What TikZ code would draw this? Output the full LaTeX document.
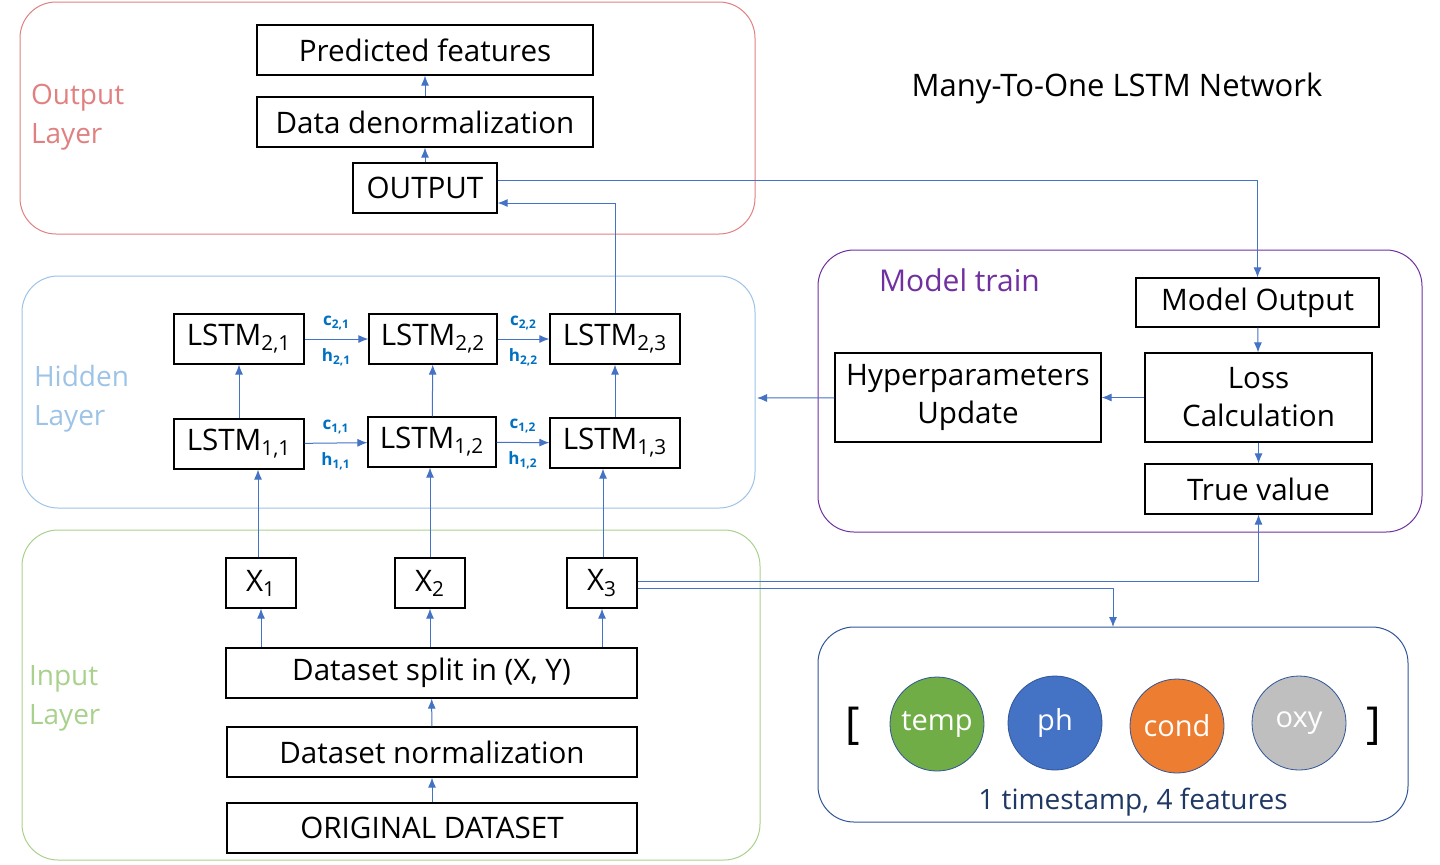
\documentclass[tikz,border=0pt]{standalone}
\usepackage{fontspec}
\setmainfont{Open Sans}
\usepackage{tikz}
\usetikzlibrary{arrows.meta,positioning,calc}
\definecolor{lnblue}{RGB}{68,114,196}
\definecolor{lblblue}{RGB}{0,112,192}
\definecolor{outred}{RGB}{224,128,128}
\definecolor{hidblue}{RGB}{157,195,230}
\definecolor{inpgreen}{RGB}{169,209,142}
\definecolor{trainpurple}{RGB}{112,48,160}
\definecolor{featnavy}{RGB}{47,85,151}
\definecolor{txtnavy}{RGB}{31,56,100}
\definecolor{ftgreen}{RGB}{112,173,71}
\definecolor{ftblue}{RGB}{68,114,196}
\definecolor{ftorange}{RGB}{237,125,49}
\definecolor{ftgray}{RGB}{191,191,191}
\tikzset{
  blk/.style={draw=black, line width=0.6pt, fill=white, inner sep=2pt, align=center,
    font=\fontsize{14.8}{19}\selectfont},
  layer/.style={line width=0.5pt, rounded corners=18pt},
  laytxt/.style={anchor=north west, align=left, font=\fontsize{14}{19.5}\selectfont},
  arr/.style={-{Latex[length=5pt,width=4pt]}, lnblue, line width=0.5pt},
  ch/.style={lblblue, font=\fontsize{8.5}{9}\selectfont\bfseries},
  feat/.style={circle, draw=featnavy, line width=0.4pt, minimum size=47pt, inner sep=0pt,
    text=white, font=\fontsize{14.5}{16}\selectfont},
}

\begin{document}
\begin{tikzpicture}[x=0.5pt, y=-0.5pt]
  \useasboundingbox (0,0) rectangle (1440,864);
  % layer frames
  \draw[layer, outred] (20,2) rectangle (755,234);
  \draw[layer, hidblue] (22,276) rectangle (755,508);
  \draw[layer, inpgreen] (22,530) rectangle (760,860);
  \draw[layer, trainpurple] (818,250) rectangle (1422,532);
  \draw[layer, featnavy] (818,627) rectangle (1408,822);
  \node[laytxt, outred] (outlbl) at (24,77) {Output\\Layer};
  \node[laytxt, hidblue] (hidlbl) at (27,358) {Hidden\\Layer};
  \node[laytxt, inpgreen] (inplbl) at (22,658) {Input\\Layer};
  \node[anchor=west, trainpurple, font=\fontsize{15}{16}\selectfont] (trainlbl) at (872,280) {Model train};
  \node[font=\fontsize{15.5}{16}\selectfont] (title) at (1117,88) {Many-To-One LSTM Network};

  % output layer
  \node[blk, minimum width=168pt, minimum height=25pt] (pred) at (425,50) {Predicted features};
  \node[blk, minimum width=168pt, minimum height=25pt] (denorm) at (425,122) {Data denormalization};
  \node[blk, minimum width=72pt, minimum height=25pt] (out) at (425,188) {OUTPUT};

  % hidden layer
  \node[blk, minimum width=65pt, minimum height=25pt] (l21) at (239,339) {LSTM\textsubscript{2,1}};
  \node[blk, minimum width=64pt, minimum height=25pt] (l22) at (433,339) {LSTM\textsubscript{2,2}};
  \node[blk, minimum width=65pt, minimum height=25pt] (l23) at (615,339) {LSTM\textsubscript{2,3}};
  \node[blk, minimum width=65pt, minimum height=25pt] (l11) at (239,444) {LSTM\textsubscript{1,1}};
  \node[blk, minimum width=64pt, minimum height=25pt] (l12) at (432,442) {LSTM\textsubscript{1,2}};
  \node[blk, minimum width=65pt, minimum height=25pt] (l13) at (615,443) {LSTM\textsubscript{1,3}};

  % input layer
  \node[blk, minimum width=35pt, minimum height=25pt] (x1) at (261,583) {X\textsubscript{1}};
  \node[blk, minimum width=35pt, minimum height=25pt] (x2) at (430,583) {X\textsubscript{2}};
  \node[blk, minimum width=35pt, minimum height=25pt] (x3) at (602,583) {X\textsubscript{3}};
  \node[blk, minimum width=205.5pt, minimum height=25pt] (split) at (431.5,673) {Dataset split in (X, Y)};
  \node[blk, minimum width=205pt, minimum height=25pt] (norm) at (432,752) {Dataset normalization};
  \node[blk, minimum width=205pt, minimum height=25pt] (orig) at (432,828) {ORIGINAL DATASET};

  % model train
  \node[blk, minimum width=121.5pt, minimum height=24.5pt] (mout) at (1257.5,302.5) {Model Output};
  \node[blk, minimum width=113.5pt, minimum height=44.5pt] (loss) at (1258.5,397.5) {Loss\\Calculation};
  \node[blk, minimum width=133pt, minimum height=44.5pt] (hyp) at (968,397.5) {Hyperparameters\\Update};
  \node[blk, minimum width=113.5pt, minimum height=25pt] (tv) at (1258.5,489) {True value};

  % features
  \node[feat, fill=ftgreen] (temp) at (937,724) {temp};
  \node[feat, fill=ftblue] (ph) at (1055,723) {ph};
  \node[feat, fill=ftorange] (cond) at (1177,726) {cond};
  \node[feat, fill=ftgray] (oxy) at (1299,723) {oxy};
  \node[font=\fontsize{22}{24}\selectfont] (lbr) at (853,726) {[};
  \node[font=\fontsize{22}{24}\selectfont] (rbr) at (1374,726) {]};
  \node[txtnavy, font=\fontsize{14}{16}\selectfont] (ftxt) at (1133,802) {1 timestamp, 4 features};
  \coordinate (feattop) at (1113,627);
  \coordinate (hidedge) at (757,398);

  % connectors
  \draw[arr] (denorm) -- (pred);
  \draw[arr] (out) -- (denorm);
  \draw[arr] (l23.north) |- ([yshift=-7.5pt]out.east);
  \draw[arr] ([yshift=4pt]out.east) -| (mout.north);
  \draw[arr] (mout) -- (loss);
  \draw[arr] (loss) -- (tv);
  \draw[arr] (loss) -- (hyp);
  \draw[arr] (hyp) -- (hidedge);
  \draw[arr] ([yshift=1pt]x3.east) -| (tv.south);
  \draw[arr] ([yshift=-2.5pt]x3.east) -| (feattop);

  \draw[arr] (l11) -- (l21);
  \draw[arr] (l12) -- (l22);
  \draw[arr] (l13) -- (l23);
  \draw[arr] (l21) -- node[ch, above=1pt] {c\textsubscript{2,1}} node[ch, below=1pt] {h\textsubscript{2,1}} (l22);
  \draw[arr] (l22) -- node[ch, above=1pt] {c\textsubscript{2,2}} node[ch, below=1pt] {h\textsubscript{2,2}} (l23);
  \draw[arr] (l11) -- node[ch, above=1pt] {c\textsubscript{1,1}} node[ch, below=1pt] {h\textsubscript{1,1}} (l12);
  \draw[arr] (l12) -- node[ch, above=1pt] {c\textsubscript{1,2}} node[ch, below=1pt] {h\textsubscript{1,2}} (l13);

  \draw[arr] ([xshift=-1.5pt]x1.north) -- ([xshift=-1.5pt]x1.north |- l11.south);
  \draw[arr] (x2.north) -- (x2.north |- l12.south);
  \draw[arr] ([xshift=0.5pt]x3.north) -- ([xshift=0.5pt]x3.north |- l13.south);
  \draw[arr] (split.north -| x1) -- (x1);
  \draw[arr] (split.north -| x2) -- (x2);
  \draw[arr] (split.north -| x3) -- (x3);
  \draw[arr] (norm) -- (split);
  \draw[arr] (orig) -- (norm);
\end{tikzpicture}
\end{document}
